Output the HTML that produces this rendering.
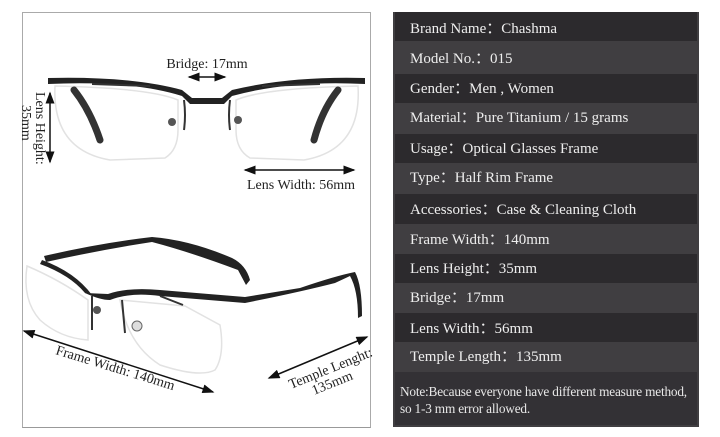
<!DOCTYPE html>
<html><head><meta charset="utf-8"><style>
body{margin:0;width:720px;height:437px;background:#fff;position:relative;overflow:hidden;font-family:"Liberation Serif",serif}
#left{position:absolute;left:22px;top:12px;width:347px;height:414px;border:1px solid #aaa;border-bottom-color:#999}
#right{position:absolute;left:393px;top:12px;width:306px;height:415px;background:#403e41}
.r{position:absolute;left:0;width:306px;color:#eee;font-size:15px;line-height:1;box-sizing:border-box;padding-left:17px;margin-top:2px}
.d{background:#2c2a2d;left:2px;width:302px;padding-left:15px}
.note{position:absolute;left:2px;top:360px;width:302px;height:53px;background:#333135;color:#e8e8e8;font-size:13.3px;line-height:17px;padding:11px 0 0 5px;box-sizing:border-box;letter-spacing:-0.2px;white-space:nowrap}
</style></head><body>
<div id="left"></div>
<svg width="720" height="437" style="position:absolute;left:0;top:0" font-family="Liberation Serif, serif">
<defs><marker id="a" markerWidth="8" markerHeight="6" refX="7" refY="3" orient="auto"><path d="M0,0L8,3L0,6z" fill="#111"/></marker>
<marker id="b" markerWidth="8" markerHeight="6" refX="1" refY="3" orient="auto"><path d="M8,0L0,3L8,6z" fill="#111"/></marker></defs>
<path d="M55,86 Q52,150 110,160 L165,158 Q178,150 178,130 L178,100 Q150,88 55,86Z" fill="none" stroke="#e2e2e2" stroke-width="1.5"/>
<path d="M358,86 Q362,150 304,160 L250,158 Q236,150 236,130 L236,100 Q264,88 358,86Z" fill="none" stroke="#e2e2e2" stroke-width="1.5"/>
<path d="M48,78 L48,84 Q130,80 182,96 L190,104 L224,104 L232,96 Q290,80 365,84 L365,78 Q290,76 232,90 L222,98 L192,98 L182,90 Q130,76 48,78Z" fill="#222"/>
<path d="M92,84 L150,86" stroke="#333" stroke-width="2"/><path d="M262,86 L320,84" stroke="#333" stroke-width="2"/>
<path d="M74,90 Q90,110 100,140" stroke="#333" stroke-width="7" fill="none" stroke-linecap="round"/>
<path d="M338,90 Q322,110 314,140" stroke="#333" stroke-width="7" fill="none" stroke-linecap="round"/>
<path d="M184,100 Q186,115 184,130" stroke="#333" stroke-width="2" fill="none"/><path d="M230,100 Q228,115 230,130" stroke="#333" stroke-width="2" fill="none"/>
<circle cx="172" cy="122" r="4" fill="#555"/><circle cx="238" cy="120" r="4" fill="#555"/>
<line x1="189" y1="77" x2="225" y2="77" stroke="#111" stroke-width="1.5" marker-end="url(#a)" marker-start="url(#b)"/>
<line x1="50" y1="93" x2="50" y2="162" stroke="#111" stroke-width="1.5" marker-end="url(#a)" marker-start="url(#b)"/>
<line x1="245" y1="170" x2="354" y2="170" stroke="#111" stroke-width="1.5" marker-end="url(#a)" marker-start="url(#b)"/>
<text x="207" y="68" font-size="14" text-anchor="middle" fill="#222">Bridge: 17mm</text>
<text x="247" y="189" font-size="14" fill="#222">Lens Width: 56mm</text>
<text transform="translate(36,92) rotate(90)" font-size="14" fill="#222">Lens Height:</text>
<text transform="translate(22,105) rotate(90)" font-size="14" fill="#222">35mm</text>
<path d="M27,266 Q22,300 40,320 Q60,338 88,340 L88,300 Q60,280 27,266Z" fill="none" stroke="#e2e2e2" stroke-width="1.5"/>
<path d="M120,300 Q128,345 160,365 Q200,378 215,370 Q225,355 220,325 L185,306 Z" fill="none" stroke="#e2e2e2" stroke-width="1.5"/>
<path d="M44,256 L46,262 Q100,250 152,242 Q190,252 238,270 L246,285 L250,280 Q246,265 232,258 Q190,240 152,237 Q100,243 44,256Z" fill="#222"/>
<path d="M40,264 Q70,275 85,293 L92,295 Q75,272 42,260Z" fill="#222"/>
<path d="M85,293 Q100,300 110,300 Q130,292 160,296 L245,303 Q300,292 335,283 L350,276 Q358,290 358,318 L362,316 Q362,285 355,272 Q335,276 300,288 L245,297 L160,290 Q128,287 108,294 Z" fill="#222"/>
<path d="M160,296 L183,305" stroke="#333" stroke-width="2"/>
<path d="M92,296 L92,330 M122,300 L125,333" stroke="#333" stroke-width="2"/>
<circle cx="97" cy="310" r="4" fill="#555"/><circle cx="137" cy="326" r="5" fill="#ddd" stroke="#666"/>
<line x1="24" y1="331" x2="213" y2="392" stroke="#111" stroke-width="1.5" marker-end="url(#a)" marker-start="url(#b)"/>
<line x1="269" y1="378" x2="367" y2="337" stroke="#111" stroke-width="1.5" marker-end="url(#a)" marker-start="url(#b)"/>
<text transform="translate(55,354) rotate(17)" font-size="14" fill="#222">Frame Width:  140mm</text>
<text transform="translate(291,389) rotate(-22)" font-size="14" fill="#222">Temple Lenght:</text>
<text transform="translate(314,395) rotate(-22)" font-size="14" fill="#222">135mm</text>
</svg>
<div id="right">
<div class="r d" style="top:0;height:29px;padding-top:8px;margin-top:0;padding-top:10px">Brand Name：Chashma</div>
<div class="r" style="top:29px;height:31px;padding-top:9px">Model No.：015</div>
<div class="r d" style="top:60px;height:29px;padding-top:8px">Gender：Men , Women</div>
<div class="r" style="top:89px;height:31px;padding-top:8px">Material：Pure Titanium / 15 grams</div>
<div class="r d" style="top:120px;height:29px;padding-top:8px">Usage：Optical Glasses Frame</div>
<div class="r" style="top:149px;height:31px;padding-top:8px">Type：Half Rim Frame</div>
<div class="r d" style="top:180px;height:30px;padding-top:9px">Accessories：Case &amp; Cleaning Cloth</div>
<div class="r" style="top:210px;height:30px;padding-top:9px">Frame Width：140mm</div>
<div class="r d" style="top:240px;height:29px;padding-top:8px">Lens Height：35mm</div>
<div class="r" style="top:269px;height:30px;padding-top:8px">Bridge：17mm</div>
<div class="r d" style="top:299px;height:29px;padding-top:9px">Lens Width：56mm</div>
<div class="r" style="top:328px;height:32px;padding-top:8px">Temple Length：135mm</div>
<div class="note">Note:Because everyone have different measure method,<br>so 1-3 mm error allowed.</div>
</div>
</body></html>
